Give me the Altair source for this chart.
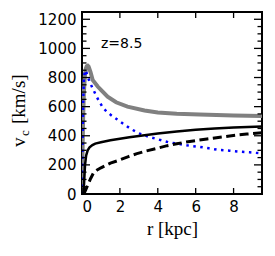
import altair as alt
import pandas as pd

# ---- data ----
gray_r = [0, 0.03, 0.06, 0.1, 0.15, 0.2, 0.25, 0.3, 0.35, 0.45, 0.56, 0.83, 1.0, 1.35, 1.8, 2.4, 3.3, 4.0, 5.0, 6.2, 8.0, 9.5]
gray_v = [0, 300, 520, 700, 810, 860, 878, 881, 875, 838, 784, 738, 715, 669, 630, 600, 573, 560, 552, 546, 540, 535]

blue_r = [0, 0.03, 0.06, 0.1, 0.15, 0.2, 0.26, 0.4, 0.7, 0.88, 1.09, 1.3, 1.58, 1.84, 2.2, 2.6, 3.0, 3.5, 4.0, 4.55, 5.1, 5.65, 6.2, 6.7, 7.2, 7.8, 8.3, 8.85, 9.5]
blue_v = [0, 350, 620, 790, 845, 850, 824, 770, 688, 642, 596, 565, 537, 514, 480, 445, 417, 394, 376, 356, 344, 332, 324, 314, 303, 297, 291, 286, 279]

solid_r = [0.08, 0.12, 0.16, 0.22, 0.3, 0.4, 0.55, 0.7, 1.0, 1.5, 2.0, 2.5, 3.0, 4.0, 5.0, 6.0, 7.0, 8.0, 9.5]
solid_v = [0, 100, 200, 265, 300, 320, 336, 346, 356, 369, 380, 390, 398, 416, 430, 442, 450, 456, 463]

dash_r = [0.1, 0.2, 0.3, 0.45, 0.6, 0.8, 1.0, 1.5, 1.95, 2.45, 2.9, 3.4, 4.0, 4.5, 5.0, 5.5, 6.0, 6.6, 7.0, 7.7, 8.1, 8.7, 9.5]
dash_v = [0, 30, 60, 105, 143, 165, 180, 212, 232, 257, 277, 296, 315, 332, 345, 357, 367, 378, 385, 397, 404, 412, 420]

x_ticks = [0, 2, 4, 6, 8]
y_ticks = [0, 200, 400, 600, 800, 1000, 1200]
y_minor = [v for v in range(50, 1251, 50) if v % 200 != 0]

label_text = ["z=8.5"]
label_r = [1.0]
label_v = [1000]

X_DOMAIN = [0, 9.5]
Y_DOMAIN = [0, 1250]
W, H = 180, 182

xs = alt.Scale(domain=X_DOMAIN, nice=False, zero=False)
ys = alt.Scale(domain=Y_DOMAIN, nice=False, zero=False)

xax = alt.Axis(values=x_ticks, ticks=False, domain=False, grid=False, title="r [kpc]", format="d",
               labelFont="DejaVu Sans", labelFontSize=15, labelColor="black", labelPadding=5,
               titleFont="Liberation Serif", titleFontSize=19, titleFontWeight="normal",
               titleColor="black", titlePadding=5)
yax = alt.Axis(values=y_ticks, ticks=False, domain=False, grid=False, title=None, format="d",
               labelFont="DejaVu Sans", labelFontSize=15, labelColor="black", labelPadding=6)


def curve(r, v, color, width, dash=None):
    df = pd.DataFrame({"r": r, "v": v, "o": list(range(len(r)))})
    kw = dict(color=color, strokeWidth=width, clip=True)
    if dash is not None:
        kw["strokeDash"] = dash
    return alt.Chart(df).mark_line(**kw).encode(
        x=alt.X("r:Q", scale=xs, axis=xax),
        y=alt.Y("v:Q", scale=ys, axis=yax),
        order="o:Q",
    )


gray = curve(gray_r, gray_v, "#808080", 4)
blue = curve(blue_r, blue_v, "#0000ff", 2.5, [2.5, 4.5])
solid = curve(solid_r, solid_v, "black", 2.5)
dashed = curve(dash_r, dash_v, "black", 3, [9, 4.5])

ydf_major = pd.DataFrame({"tv": y_ticks})
ydf_minor = pd.DataFrame({"tv": y_minor})
xdf = pd.DataFrame({"tr": x_ticks})


def yticks(df, length):
    left = alt.Chart(df).mark_tick(color="black", thickness=1.3, size=length, opacity=1).encode(
        y=alt.Y("tv:Q", scale=ys, axis=yax), x=alt.value(length / 2))
    right = alt.Chart(df).mark_tick(color="black", thickness=1.3, size=length, opacity=1).encode(
        y=alt.Y("tv:Q", scale=ys, axis=yax), x=alt.value(W - length / 2))
    return [left, right]


def xticks(df, length):
    bot = alt.Chart(df).mark_tick(color="black", thickness=1.3, size=length, opacity=1).encode(
        x=alt.X("tr:Q", scale=xs, axis=xax), y=alt.value(H - length / 2))
    top = alt.Chart(df).mark_tick(color="black", thickness=1.3, size=length, opacity=1).encode(
        x=alt.X("tr:Q", scale=xs, axis=xax), y=alt.value(length / 2))
    return [bot, top]


ann = alt.Chart(pd.DataFrame({"r": label_r, "v": label_v, "t": label_text})).mark_text(
    font="DejaVu Sans", fontSize=14, align="left", baseline="alphabetic", color="black"
).encode(x=alt.X("r:Q", scale=xs, axis=xax), y=alt.Y("v:Q", scale=ys, axis=yax), text="t:N")

# y-axis title "v_c [km/s]" built from pieces (subscript c)
ytitle_main = alt.Chart(pd.DataFrame({"t": ["v"]})).mark_text(
    font="Liberation Serif", fontSize=19, align="left", baseline="alphabetic", angle=270, color="black"
).encode(text="t:N", x=alt.value(-57), y=alt.value(135))
ytitle_sub = alt.Chart(pd.DataFrame({"t": ["c"]})).mark_text(
    font="Liberation Serif", fontSize=13, align="left", baseline="alphabetic", angle=270, color="black"
).encode(text="t:N", x=alt.value(-53), y=alt.value(124))
ytitle_unit = alt.Chart(pd.DataFrame({"t": ["[km/s]"]})).mark_text(
    font="Liberation Serif", fontSize=19, align="left", baseline="alphabetic", angle=270, color="black"
).encode(text="t:N", x=alt.value(-57), y=alt.value(112))

layers = [gray, blue, solid, dashed] + yticks(ydf_major, 8) + yticks(ydf_minor, 4.5) + xticks(xdf, 6) + [
    ann, ytitle_main, ytitle_sub, ytitle_unit]

chart = alt.layer(*layers).properties(
    width=W, height=H,
    autosize=alt.AutoSizeParams(type="none"),
    padding={"left": 74, "top": 4, "right": 5, "bottom": 54},
    background="white",
).configure_view(stroke="black", strokeWidth=2)

chart.save("out.html", embed_options={"renderer": "svg", "actions": False})
